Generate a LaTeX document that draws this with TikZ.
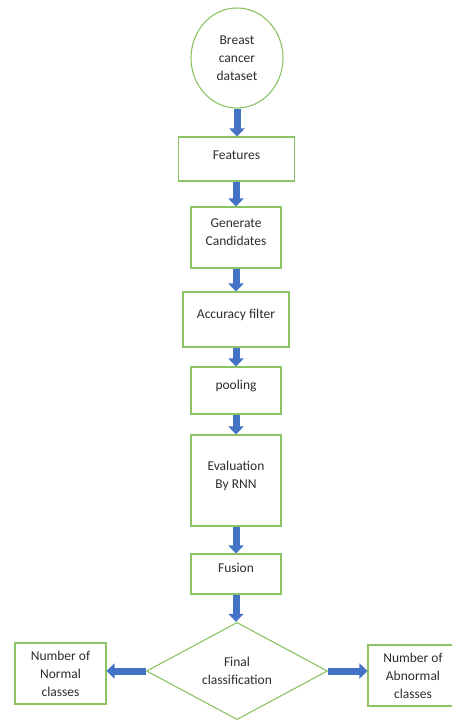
\documentclass[tikz,border=0pt]{standalone}
\usepackage{fontspec}
\setmainfont{Carlito}
\usetikzlibrary{shapes.geometric,arrows.meta}
\definecolor{boxgreen}{RGB}{140,195,100}
\definecolor{arrblue}{RGB}{68,114,196}
\definecolor{txtgray}{RGB}{45,45,45}
\begin{document}
\begin{tikzpicture}[x=1pt,y=-1pt,
  box/.style={draw=boxgreen,line width=1.1pt,inner sep=0pt,fill=white,
    font=\fontsize{13.5}{18}\selectfont,text=txtgray,align=center},
  txt/.style={font=\fontsize{13.5}{18}\selectfont,text=txtgray,align=center,inner sep=0pt},
  flow/.style={draw=arrblue,line width=7pt,-{Triangle[width=15pt,length=8pt]}}]
\useasboundingbox (0,0) rectangle (451,722);
\fill[white] (0,0) rectangle (451,722);
% shapes
\node[box,ellipse,minimum width=92pt,minimum height=100pt] (data) at (237,58) {Breast\\cancer\\dataset};
\node[box,minimum width=116pt,minimum height=44pt] (feat) at (236.5,159) {};
\node[txt] (featt) at ([yshift=4pt]feat.center) {Features};
\node[box,minimum width=90pt,minimum height=61pt] (gen) at (236,237.5) {};
\node[txt] (gent) at ([yshift=5pt]gen.center) {Generate\\Candidates};
\node[box,minimum width=106pt,minimum height=55pt] (acc) at (236,319.5) {};
\node[txt] (acct) at ([yshift=5pt]acc.center) {Accuracy filter};
\node[box,minimum width=90pt,minimum height=47pt] (pool) at (236,390.5) {};
\node[txt] (poolt) at ([yshift=5pt]pool.center) {pooling};
\node[box,minimum width=90pt,minimum height=91pt] (eval) at (236,480.5) {};
\node[txt] (evalt) at ([yshift=5pt]eval.center) {Evaluation\\By RNN};
\node[box,minimum width=90pt,minimum height=40pt] (fus) at (236,574) {};
\node[txt] (fust) at ([yshift=6pt]fus.center) {Fusion};
\node[box,diamond,minimum width=181pt,minimum height=94pt] (fin) at (237,671) {Final\\classification};
\node[box,minimum width=91pt,minimum height=61pt] (norm) at (60.5,673.5) {Number of\\Normal\\classes};
\node[box,minimum width=90pt,minimum height=61pt] (abn) at (413,675.5) {Number of\\Abnormal\\classes};
% connectors
\draw[flow] (data.south) -- (data.south |- feat.north);
\draw[flow] (feat.south -| gen.north) -- (gen.north);
\draw[flow] (gen.south) -- (acc.north);
\draw[flow] (acc.south) -- (pool.north);
\draw[flow] (pool.south) -- (eval.north);
\draw[flow] (eval.south) -- (fus.north);
\draw[flow] (fus.south) -- (fus.south |- fin.north);
\draw[flow] (fin.west) -- (fin.west -| norm.east);
\draw[flow] (fin.east) -- (fin.east -| abn.west);
\end{tikzpicture}
\end{document}
